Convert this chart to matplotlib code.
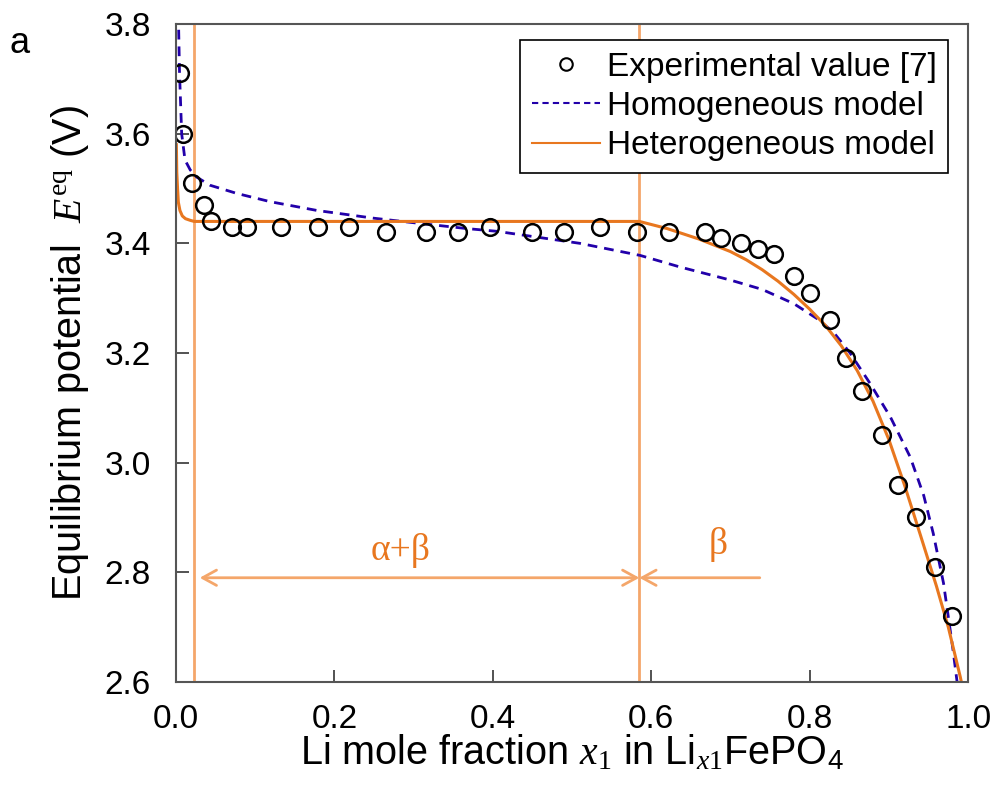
import numpy as np
import matplotlib
matplotlib.use("Agg")
import matplotlib.pyplot as plt
from matplotlib.lines import Line2D

plt.rcParams['font.family'] = ['Liberation Sans', 'DejaVu Sans']
plt.rcParams['mathtext.fontset'] = 'custom'
plt.rcParams['mathtext.rm'] = 'Liberation Serif'
plt.rcParams['mathtext.it'] = 'Liberation Serif:italic'
plt.rcParams['mathtext.sf'] = 'Liberation Sans'

# experimental points (Li mole fraction, potential)
exp_x = [0.005, 0.009, 0.020, 0.035, 0.044, 0.071, 0.090, 0.133, 0.179, 0.218,
         0.265, 0.316, 0.356, 0.396, 0.449, 0.490, 0.535, 0.582, 0.622, 0.668,
         0.688, 0.713, 0.735, 0.755, 0.780, 0.800, 0.826, 0.846, 0.866, 0.891,
         0.912, 0.934, 0.958, 0.980]
exp_y = [3.71, 3.60, 3.51, 3.47, 3.44, 3.43, 3.43, 3.43, 3.43, 3.43,
         3.42, 3.42, 3.42, 3.43, 3.42, 3.42, 3.43, 3.42, 3.42, 3.42,
         3.41, 3.40, 3.39, 3.38, 3.34, 3.31, 3.26, 3.19, 3.13, 3.05,
         2.96, 2.90, 2.81, 2.72]

# homogeneous model
hom_x = [0.003, 0.0045, 0.0072, 0.0114, 0.018, 0.026, 0.043, 0.077, 0.119, 0.178,
         0.249, 0.304, 0.367, 0.405, 0.510, 0.586, 0.636, 0.700, 0.740, 0.780,
         0.809, 0.830, 0.851, 0.876, 0.902, 0.927, 0.944, 0.956, 0.969, 0.981,
         0.987]
hom_y = [3.82, 3.71, 3.60, 3.552, 3.534, 3.521, 3.506, 3.491, 3.476, 3.460,
         3.446, 3.437, 3.427, 3.422, 3.400, 3.378, 3.357, 3.333, 3.316, 3.290,
         3.263, 3.238, 3.200, 3.145, 3.083, 3.010, 2.940, 2.871, 2.780, 2.658,
         2.59]

# heterogeneous model
het_x = [0.0005, 0.001, 0.002, 0.003, 0.005, 0.008, 0.012, 0.018, 0.023, 0.100,
         0.300, 0.500, 0.585, 0.620, 0.660, 0.700, 0.720, 0.740, 0.760, 0.780,
         0.800, 0.820, 0.840, 0.860, 0.880, 0.900, 0.920, 0.940, 0.960, 0.975,
         0.990, 0.993]
het_y = [3.58, 3.53, 3.50, 3.475, 3.46, 3.45, 3.445, 3.442, 3.44, 3.44,
         3.44, 3.44, 3.44, 3.427, 3.408, 3.385, 3.370, 3.352, 3.331, 3.307,
         3.280, 3.250, 3.213, 3.168, 3.112, 3.042, 2.958, 2.867, 2.775, 2.700,
         2.610, 2.590]

# phase boundaries
x_alpha = 0.023
x_beta = 0.585

orange = '#E8771F'
light = '#F4A66A'
blue = '#2200AA'

fig = plt.figure(figsize=(9.97, 7.92), dpi=100)
ax = fig.add_axes([0.1765, 0.139, 0.7945, 0.8306])

ax.axvline(x_alpha, color=light, lw=2)
ax.axvline(x_beta, color=light, lw=2)

ax.plot(hom_x, hom_y, color=blue, ls=(0, (3.5, 2.5)), lw=2)
ax.plot(het_x, het_y, color=orange, lw=2.2)
ax.plot(exp_x, exp_y, ls='none', marker='o', ms=12, mfc='none', mec='black', mew=1.8)

ax.annotate('', xy=(0.03, 2.79), xytext=(x_beta, 2.79),
            arrowprops=dict(arrowstyle='<->,head_length=1.0,head_width=0.55',
                            color=light, lw=2, shrinkA=0, shrinkB=0))
ax.annotate('', xy=(x_beta, 2.79), xytext=(0.737, 2.79),
            arrowprops=dict(arrowstyle='->,head_length=1.0,head_width=0.55',
                            color=light, lw=2, shrinkA=0, shrinkB=0))
ax.text(0.283, 2.84, 'α+β', color=orange, fontsize=27, family='Liberation Serif',
        ha='center', va='center')
ax.text(0.684, 2.85, 'β', color=orange, fontsize=27, family='Liberation Serif',
        ha='center', va='center')

ax.set_xlim(0, 1)
ax.set_ylim(2.6, 3.8)
ax.set_xticks([0.0, 0.2, 0.4, 0.6, 0.8, 1.0])
ax.set_yticks([2.6, 2.8, 3.0, 3.2, 3.4, 3.6, 3.8])
ax.xaxis.set_major_formatter(matplotlib.ticker.FormatStrFormatter('%.1f'))
ax.yaxis.set_major_formatter(matplotlib.ticker.FormatStrFormatter('%.1f'))
ax.tick_params(direction='in', length=9, width=1.3, colors='#444444',
               labelcolor='black', labelsize=24)
ax.tick_params(axis='y', pad=18)
ax.tick_params(axis='x', pad=16)
for s in ax.spines.values():
    s.set_color('#555555')
    s.set_linewidth(1.5)

ax.set_xlabel(r'Li mole fraction $x_1$ in Li$_{x1}$FePO$_{\mathsf{4}}$', fontsize=28.5, labelpad=-2)
ax.set_ylabel(r'Equilibrium potential  $E^{\mathrm{eq}}$ (V)', fontsize=28.5, labelpad=10)

handles = [Line2D([], [], ls='none', marker='o', ms=9, mfc='none', mec='black', mew=1.5),
           Line2D([], [], color=blue, ls=(0, (3, 2)), lw=1.5),
           Line2D([], [], color=orange, lw=1.5)]
labels = ['Experimental value [7]', 'Homogeneous model', 'Heterogeneous model']
leg = ax.legend(handles, labels, loc='upper right', bbox_to_anchor=(0.975, 0.976),
                borderaxespad=0, fontsize=24, fancybox=False, framealpha=1,
                handlelength=2.05, handletextpad=0.2, labelspacing=0.25,
                borderpad=0.35)
leg.get_frame().set_edgecolor('black')
leg.get_frame().set_linewidth(1.2)

fig.text(0.010, 0.945, 'a', fontsize=26, ha='left', va='center')

fig.savefig('out.png', dpi=100)
